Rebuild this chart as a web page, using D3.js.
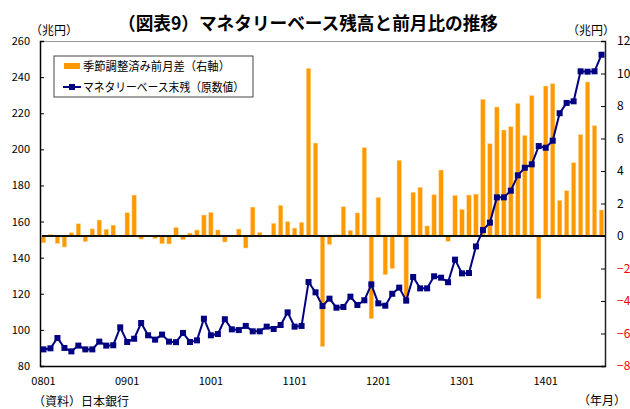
<!DOCTYPE html>
<html>
<head>
<meta charset="utf-8">
<script src="https://cdn.jsdelivr.net/npm/d3@7"></script>
<style>
  body { margin: 0; background: #fff; }
  text { font-family: "Noto Sans CJK JP", "Noto Sans", sans-serif; }
</style>
</head>
<body>
<div class="chart"></div>
<script>
// months 2008/01 .. 2014/09
var months = d3.range(81).map(function(i) {
    var y = 8 + Math.floor(i / 12), m = i % 12 + 1;
    return (y < 10 ? "0" : "") + y + (m < 10 ? "0" : "") + m;
});
var tickMonths = ["0801", "0901", "1001", "1101", "1201", "1301", "1401"];
var leftTicks = [80, 100, 120, 140, 160, 180, 200, 220, 240, 260];
var rightTicks = [-8, -6, -4, -2, 0, 2, 4, 6, 8, 10, 12];

// 季節調整済み前月差 (右軸, 兆円)
var diffSA = [
    -0.42, 0.1, -0.46, -0.68, 0.2, 0.75, -0.35, 0.44, 0.98, 0.42,
    0.67, 0.02, 1.43, 2.52, -0.19, 0.03, -0.16, -0.48, -0.49, 0.53,
    -0.23, 0.18, 0.37, 1.29, 1.45, 0.37, -0.37, 0.02, 0.43, -0.74,
    1.78, 0.22, 0.02, 0.78, 1.89, 0.88, 0.49, 0.84, 10.32, 5.72,
    -6.8, -0.53, 0.08, 1.8, 0.35, 1.42, 5.44, -5.09, 2.38, -2.38,
    -2.01, 4.66, -3.95, 2.69, 3.0, 0.62, 2.54, 4.06, -0.33, 2.5,
    1.64, 2.52, 2.58, 8.41, 5.68, 7.94, 6.52, 6.73, 8.16, 6.19,
    8.64, -3.86, 9.23, 9.37, 2.19, 2.79, 4.51, 6.24, 9.48, 6.79,
    1.6
];

// マネタリーベース末残 (原数値, 兆円)
var baseStock = [
    89.2, 89.8, 95.5, 90.0, 88.1, 91.3, 89.2, 89.2, 93.5, 91.3,
    91.5, 101.4, 93.3, 95.1, 103.8, 97.0, 94.6, 97.4, 93.5, 93.2,
    98.3, 93.3, 94.2, 106.2, 97.0, 97.7, 105.9, 100.3, 99.9, 102.2,
    99.2, 99.2, 101.8, 100.5, 102.7, 109.7, 101.8, 102.2, 126.5, 120.8,
    113.2, 117.3, 112.3, 112.7, 118.4, 113.8, 116.4, 125.2, 114.7, 113.4,
    120.0, 123.4, 116.2, 129.3, 123.0, 123.0, 129.7, 128.9, 126.4, 138.9,
    131.3, 131.5, 146.2, 155.3, 159.4, 173.4, 173.4, 177.1, 185.6, 189.8,
    191.7, 201.8, 200.9, 204.8, 220.0, 225.7, 226.6, 243.2, 243.0, 243.2,
    252.4
];

var svgWidth = 630;
var svgHeight = 409;

var margin = { top : 41, right : 25, bottom : 43, left : 40 };
var width = svgWidth - margin.left - margin.right;
var height = svgHeight - margin.top - margin.bottom;

var svg = d3.select(".chart").append("svg")
    .attr("width", svgWidth).attr("height", svgHeight);

var chartGroup = svg.append("g").attr("transform", `translate(${margin.left},${margin.top})`);

var xBand = d3.scaleBand().domain(months).range([0, width])
    .paddingInner(0.36).paddingOuter(0.18);
var xCenter = d => xBand(d) + xBand.bandwidth() / 2;

var yLeft = d3.scaleLinear().domain([80, 260]).range([height, 0]);
var yRight = d3.scaleLinear().domain([-8, 12]).range([height, 0]);

// frame: top grey line
chartGroup.append("line")
    .attr("x1", 0).attr("x2", width).attr("y1", 0.5).attr("y2", 0.5)
    .attr("stroke", "#999").attr("stroke-width", 1.2);

// bars
chartGroup.append("g").selectAll("rect")
    .data(diffSA).enter().append("rect")
    .attr("x", (d, i) => xBand(months[i]))
    .attr("width", xBand.bandwidth())
    .attr("y", d => yRight(Math.max(0, d)))
    .attr("height", d => Math.abs(yRight(d) - yRight(0)))
    .attr("fill", "#FF9900")
    .attr("stroke", "#FFD9A3").attr("stroke-width", 0.5);

// zero line
chartGroup.append("line")
    .attr("x1", 2).attr("x2", width)
    .attr("y1", yRight(0)).attr("y2", yRight(0))
    .attr("stroke", "#111").attr("stroke-width", 2);

// left axis
var leftAxis = d3.axisLeft(yLeft).tickValues(leftTicks).tickSize(-4).tickPadding(10);
var gl = chartGroup.append("g").call(leftAxis);
gl.select(".domain").attr("stroke", "#000").attr("stroke-width", 1.5);
gl.selectAll("text").attr("font-size", "11px").attr("fill", "#000");

// right axis
var rightAxis = d3.axisRight(yRight).tickValues(rightTicks).tickSize(-4).tickPadding(12);
var gr = chartGroup.append("g").attr("transform", `translate(${width},0)`).call(rightAxis);
gr.select(".domain").attr("stroke", "#222").attr("stroke-width", 1.5);
gr.selectAll("text").attr("font-size", "12px")
    .attr("fill", d => d < 0 ? "#FF0000" : "#000");

// bottom axis
var bottomAxis = d3.axisBottom(xBand).tickValues(tickMonths).tickSize(0).tickPadding(11);
var gb = chartGroup.append("g").attr("transform", `translate(0,${height})`).call(bottomAxis);
gb.select(".domain").attr("stroke", "#000").attr("stroke-width", 1.5);
gb.selectAll("text").attr("font-size", "11px").attr("fill", "#000");

// monetary base line
var line = d3.line().x((d, i) => xCenter(months[i])).y(d => yLeft(d));
chartGroup.append("path").datum(baseStock)
    .attr("d", line).attr("fill", "none")
    .attr("stroke", "#000080").attr("stroke-width", 2);

chartGroup.append("g").selectAll("rect")
    .data(baseStock).enter().append("rect")
    .attr("x", (d, i) => xCenter(months[i]) - 3)
    .attr("y", d => yLeft(d) - 3)
    .attr("width", 6).attr("height", 6)
    .attr("fill", "#000080");

// legend
var legend = svg.append("g").attr("transform", "translate(54,56)");
legend.append("rect")
    .attr("width", 199).attr("height", 41)
    .attr("fill", "#fff").attr("stroke", "#444").attr("stroke-width", 1);
legend.append("rect")
    .attr("x", 10).attr("y", 7).attr("width", 16).attr("height", 6)
    .attr("fill", "#FF9900");
legend.append("text").attr("x", 29).attr("y", 15)
    .attr("font-size", "12px").attr("textLength", 147).attr("lengthAdjust", "spacingAndGlyphs")
    .text("季節調整済み前月差（右軸）");
legend.append("line")
    .attr("x1", 9).attr("x2", 27).attr("y1", 31).attr("y2", 31)
    .attr("stroke", "#000080").attr("stroke-width", 2);
legend.append("rect")
    .attr("x", 15).attr("y", 28).attr("width", 6).attr("height", 6)
    .attr("fill", "#000080");
legend.append("text").attr("x", 29).attr("y", 36)
    .attr("font-size", "12px").attr("textLength", 161).attr("lengthAdjust", "spacingAndGlyphs")
    .text("マネタリーベース末残（原数値）");

// titles and notes
svg.append("text").attr("x", 118).attr("y", 30)
    .attr("font-size", "18px").attr("font-weight", "bold")
    .attr("textLength", 380).attr("lengthAdjust", "spacingAndGlyphs")
    .text("（図表9）マネタリーベース残高と前月比の推移");

svg.append("text").attr("x", 30).attr("y", 35)
    .attr("font-size", "12px").text("（兆円）");
svg.append("text").attr("x", 567).attr("y", 35)
    .attr("font-size", "12px").text("（兆円）");
svg.append("text").attr("x", 33).attr("y", 406)
    .attr("font-size", "12px").text("（資料）日本銀行");
svg.append("text").attr("x", 578).attr("y", 405)
    .attr("font-size", "12px").text("（年月）");
</script>
</body>
</html>
